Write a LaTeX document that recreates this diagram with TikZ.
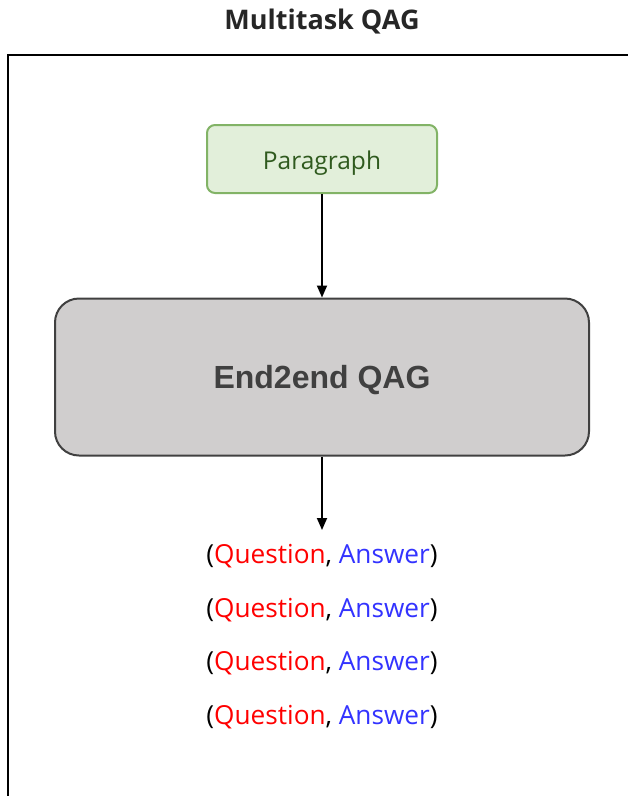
\documentclass[tikz,border=0pt]{standalone}
\usepackage{fontspec}
\setmainfont{Open Sans}
\newfontfamily\boxfont{Liberation Sans}
\usetikzlibrary{arrows.meta}
\definecolor{parafill}{HTML}{E2EFDA}
\definecolor{paradraw}{HTML}{82B366}
\definecolor{paratext}{HTML}{2F5A1E}
\definecolor{qagfill}{HTML}{D0CECE}
\definecolor{qagdraw}{HTML}{404040}
\definecolor{qred}{HTML}{FF0000}
\definecolor{ablue}{HTML}{3333FF}
\tikzset{
  inputbox/.style={draw=paradraw, fill=parafill, line width=2pt, rounded corners=8pt,
    minimum width=230pt, minimum height=68pt, inner sep=0pt,
    text height=20pt, text depth=0pt,
    text=paratext, font=\fontsize{24.5}{28}\selectfont},
  modelbox/.style={draw=qagdraw, fill=qagfill, line width=2pt, rounded corners=24pt,
    minimum width=534pt, minimum height=157pt, inner sep=0pt,
    text height=23pt, text depth=0pt,
    text=qagdraw, font=\boxfont\bfseries\fontsize{32}{36}\selectfont},
  pairtext/.style={font=\fontsize{26.2}{32}\selectfont, inner sep=0pt,
    text height=19pt, text depth=0pt},
  flow/.style={-{Triangle[length=12pt,width=10pt]}, line width=1.8pt},
  frame/.style={line width=2pt}
}
\newcommand{\qapair}{(\textcolor{qred}{Question}, \textcolor{ablue}{Answer})}
\begin{document}
\begin{tikzpicture}[x=1pt,y=-1pt]
  \useasboundingbox (0,0) rectangle (628,796);
  % title and frame
  \node[font=\bfseries\fontsize{27}{32}\selectfont, text=black!85] (title) at (322,22) {Multitask QAG};
  \coordinate (frameTR) at (628,55);
  \coordinate (frameTL) at (7.5,55);
  \coordinate (frameBL) at (7.5,796);
  \draw[frame] (frameTR) -- (frameTL) -- (frameBL);
  % pipeline
  \node[inputbox] (para) at (322,159) {Paragraph};
  \node[modelbox] (qag) at (322,377) {End2end QAG};
  \draw[flow] (para.south) -- (qag.north);
  % generated pairs
  \node[pairtext] (p1) at (322,554) {\qapair};
  \node[pairtext] (p2) at (322,608) {\qapair};
  \node[pairtext] (p3) at (322,661) {\qapair};
  \node[pairtext] (p4) at (322,715) {\qapair};
  \coordinate (pairsTop) at (322,530);
  \draw[flow] (qag.south) -- (pairsTop);
\end{tikzpicture}
\end{document}
